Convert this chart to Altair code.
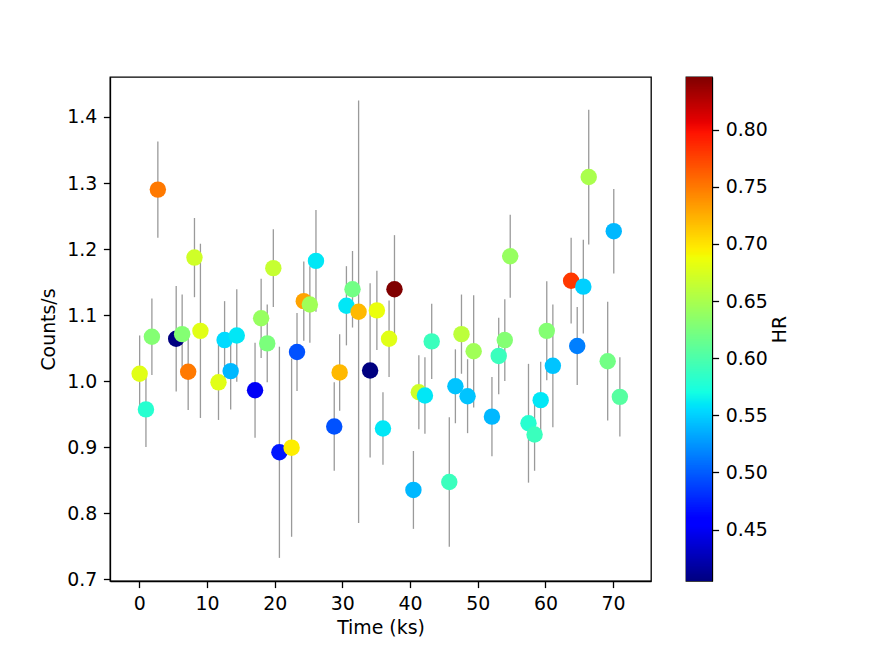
import altair as alt
import pandas as pd
import numpy as np

# ---- data ----
time_ks = [0.05, 0.98, 1.86, 2.74, 5.45, 6.33, 7.22, 8.15, 9.03, 11.7,
           12.6, 13.5, 14.4, 17.1, 18.0, 18.9, 19.8, 20.7, 22.5, 23.3,
           24.3, 25.2, 26.1, 28.8, 29.6, 30.6, 31.5, 32.4, 34.1, 35.1,
           36.0, 36.9, 37.7, 40.5, 41.3, 42.2, 43.2, 45.8, 46.7, 47.6,
           48.5, 49.4, 52.1, 53.1, 54.0, 54.8, 57.5, 58.4, 59.3, 60.2,
           61.1, 63.8, 64.7, 65.6, 66.4, 69.2, 70.1, 71.0]
counts = [1.011, 0.957, 1.067, 1.290, 1.064, 1.071, 1.014, 1.187, 1.076, 0.998,
          1.062, 1.015, 1.069, 0.986, 1.095, 1.057, 1.171, 0.892, 0.899, 1.044,
          1.121, 1.116, 1.182, 0.931, 1.013, 1.114, 1.139, 1.105, 1.016, 1.107,
          0.928, 1.064, 1.139, 0.835, 0.983, 0.978, 1.060, 0.847, 0.992, 1.071,
          0.977, 1.045, 0.946, 1.038, 1.062, 1.189, 0.936, 0.919, 0.971, 1.076,
          1.023, 1.152, 1.053, 1.143, 1.309, 1.030, 1.227, 0.976]
errors = [0.058, 0.057, 0.058, 0.073, 0.080, 0.060, 0.058, 0.060, 0.132, 0.057,
          0.059, 0.058, 0.070, 0.072, 0.060, 0.059, 0.059, 0.160, 0.135, 0.059,
          0.060, 0.058, 0.077, 0.067, 0.058, 0.060, 0.058, 0.320, 0.132, 0.060,
          0.055, 0.058, 0.082, 0.059, 0.056, 0.058, 0.057, 0.098, 0.056, 0.060,
          0.056, 0.085, 0.060, 0.058, 0.062, 0.063, 0.090, 0.055, 0.058, 0.075,
          0.093, 0.065, 0.059, 0.071, 0.102, 0.090, 0.064, 0.060]
hr = [0.68, 0.58, 0.63, 0.75, 0.405, 0.63, 0.75, 0.67, 0.68, 0.68,
      0.555, 0.54, 0.56, 0.45, 0.64, 0.625, 0.665, 0.47, 0.695, 0.495,
      0.73, 0.645, 0.56, 0.495, 0.72, 0.56, 0.62, 0.72, 0.405, 0.685,
      0.56, 0.68, 0.846, 0.54, 0.67, 0.56, 0.59, 0.59, 0.545, 0.66,
      0.545, 0.645, 0.54, 0.59, 0.63, 0.64, 0.58, 0.59, 0.56, 0.63,
      0.545, 0.78, 0.515, 0.55, 0.65, 0.62, 0.54, 0.605]

hr_ticks = [0.45, 0.50, 0.55, 0.60, 0.65, 0.70, 0.75, 0.80]
x_ticks = [0, 10, 20, 30, 40, 50, 60, 70]
y_ticks = [0.7, 0.8, 0.9, 1.0, 1.1, 1.2, 1.3, 1.4]

# ---- scales ----
hr_min, hr_max = 0.405, 0.846
jet_t = [0, 0.11, 0.125, 0.34, 0.35, 0.375, 0.64, 0.65, 0.66, 0.89, 0.91, 1.0]
jet_colors = ["#000080", "#0000ff", "#0000ff", "#00dbff", "#00e6f7", "#15ffe2",
              "#efff08", "#f7f600", "#ffec00", "#ff1300", "#e80000", "#800000"]
cdomain = [hr_min + t * (hr_max - hr_min) for t in jet_t]
cscale = alt.Scale(domain=cdomain, range=jet_colors, interpolate="rgb", clamp=True)

df = pd.DataFrame({"time": time_ks, "rate": counts, "err": errors, "hr": hr})

xscale = alt.Scale(domain=[-4.33, 75.6], nice=False, zero=False)
yscale = alt.Scale(domain=[0.697, 1.4606], nice=False, zero=False)

x_enc = alt.X("time:Q", scale=xscale,
              axis=alt.Axis(values=x_ticks, title="Time (ks)", format="d", titlePadding=5))

bars = alt.Chart(df).transform_calculate(
    lo="datum.rate - datum.err", hi="datum.rate + datum.err"
).mark_rule(color="#9a9a9a", strokeWidth=1.3).encode(
    x=x_enc,
    y=alt.Y("lo:Q", scale=yscale,
            axis=alt.Axis(values=y_ticks, title="Counts/s", format=".1f")),
    y2="hi:Q",
)

points = alt.Chart(df).mark_circle(size=270, opacity=1).encode(
    x=x_enc,
    y=alt.Y("rate:Q", scale=yscale),
    color=alt.Color("hr:Q", scale=cscale, legend=None),
)

main = alt.layer(bars, points).properties(width=541, height=504)

# ---- colorbar ----
n = 300
edges = np.linspace(hr_min, hr_max, n + 1)
step = edges[1] - edges[0]
cb_df = pd.DataFrame({"lo": edges[:-1], "hi": np.minimum(edges[:-1] + 1.6 * step, hr_max),
                      "mid": edges[:-1] + step / 2})

colorbar = alt.Chart(cb_df).mark_rect().encode(
    x=alt.value(0), x2=alt.value(26),
    y=alt.Y("lo:Q", scale=alt.Scale(domain=[hr_min, hr_max], nice=False, zero=False),
            axis=alt.Axis(orient="right", values=hr_ticks, format=".2f",
                          title="HR", titleAngle=270, titlePadding=22)),
    y2="hi:Q",
    color=alt.Color("mid:Q", scale=cscale, legend=None),
).properties(width=26, height=504)

chart = alt.hconcat(main, colorbar, spacing=33).resolve_scale(
    color="independent"
).properties(
    padding={"left": 31, "top": 68, "right": 5, "bottom": 5}
).configure_view(
    stroke="black", strokeWidth=1.3
).configure_axis(
    grid=False,
    domainColor="black", domainWidth=1.3,
    tickColor="black", tickSize=6.6, tickWidth=1.3,
    labelFont="DejaVu Sans", labelFontSize=18.9, labelColor="black", labelPadding=6.6,
    titleFont="DejaVu Sans", titleFontSize=18.9, titleFontWeight="normal",
    titleColor="black", titlePadding=8,
)

chart.save("out.html", embed_options={"renderer": "svg", "actions": False})
